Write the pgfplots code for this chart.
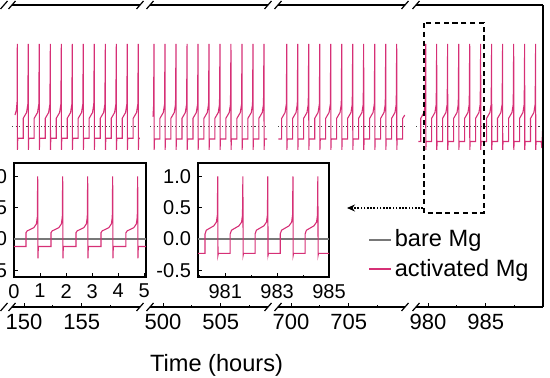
\documentclass[border=0pt]{standalone}
\usepackage{pgfplots}
\pgfplotsset{compat=1.18}
\usepackage{fontspec}
\setmainfont{Liberation Sans}
\usetikzlibrary{arrows.meta}
\definecolor{act}{RGB}{214,48,118}
\definecolor{bare}{RGB}{120,120,120}
\pgfplotsset{
  seg/.style={scale only axis, width=#1, height=151pt,
    ymin=-2.18, ymax=1.47, ytick=\empty,
    separate axis lines, y axis line style={draw=none},
    x axis line style={line width=0.6pt},
    xtick pos=left, tick align=inside,
    major tick length=2pt, minor tick length=1.2pt,
    tick style={line width=0.5pt, black},
    /pgf/number format/assume math mode=true,
    tick label style={font=\fontsize{11}{13}\selectfont},
    anchor=south west},
  inset/.style={scale only axis, width=#1, height=57pt,
    ymin=-0.606, ymax=1.212, ytick={-0.5,0,0.5,1},
    tick align=inside, xtick pos=left, ytick pos=left,
    axis line style={line width=0.7pt},
    major tick length=2pt, minor tick length=1.2pt,
    tick style={line width=0.5pt, black},
    /pgf/number format/assume math mode=true,
    yticklabel style={/pgf/number format/.cd, fixed, fixed zerofill, precision=1},
    tick label style={font=\fontsize{10}{12}\selectfont},
    anchor=south west},
  actline/.style={act, line width=0.55pt, mark=none},
  bareline/.style={bare, line width=0.6pt, mark=none},
}
\begin{document}
\begin{tikzpicture}
\useasboundingbox (0pt,-189pt) rectangle (275pt,0pt);
\begin{scope}
\clip (0pt,-189pt) rectangle (275pt,0pt);
% ---------------- main segments ----------------
\begin{axis}[seg=64pt, at={(6pt,-153.5pt)}, xmin=148.96, xmax=160.04,
  xtick={150,155}, minor xtick={152.5,157.5}]
\addplot[black!75, line width=0.6pt, dash pattern=on 0.6pt off 1.2pt] coordinates {(148.96,0) (160.04,0)};
\addplot[actline] coordinates {
(149.22,0.14)(149.34,0.20)(149.40,0.30)
(149.42,1.0)(149.43,-0.28)(149.46,-0.14)
(149.93,-0.14)(149.93,0.10)(150.22,0.17)(150.33,0.27)(150.37,1.0)(150.38,-0.28)(150.41,-0.14)
(150.88,-0.14)(150.88,0.10)(151.17,0.17)(151.28,0.27)(151.32,1.0)(151.33,-0.28)(151.36,-0.14)
(151.84,-0.14)(151.84,0.10)(152.13,0.17)(152.24,0.27)(152.28,1.0)(152.29,-0.28)(152.32,-0.14)
(152.79,-0.14)(152.79,0.10)(153.08,0.17)(153.19,0.27)(153.23,1.0)(153.24,-0.28)(153.27,-0.14)
(153.74,-0.14)(153.74,0.10)(154.03,0.17)(154.14,0.27)(154.18,1.0)(154.19,-0.28)(154.22,-0.14)
(154.69,-0.14)(154.69,0.10)(154.98,0.17)(155.09,0.27)(155.13,1.0)(155.14,-0.28)(155.17,-0.14)
(155.64,-0.14)(155.64,0.10)(155.93,0.17)(156.04,0.27)(156.08,1.0)(156.09,-0.28)(156.12,-0.14)
(156.60,-0.14)(156.60,0.10)(156.89,0.17)(157.00,0.27)(157.04,1.0)(157.05,-0.28)(157.08,-0.14)
(157.55,-0.14)(157.55,0.10)(157.84,0.17)(157.95,0.27)(157.99,1.0)(158.00,-0.28)(158.03,-0.14)
(158.50,-0.14)(158.50,0.10)(158.79,0.17)(158.90,0.27)(158.94,1.0)(158.95,-0.28)(158.98,-0.14)
(159.45,-0.14)(159.45,0.10)(159.74,0.17)(159.85,0.27)(159.89,1.0)(159.90,-0.28)(159.93,-0.14)
(160.02,-0.14)};
\end{axis}
\begin{axis}[seg=59pt, at={(75pt,-153.5pt)}, xmin=498.87, xmax=509.09,
  xtick={500,505}, minor xtick={502.5,507.5},
  xlabel={Time (hours)},
  xlabel style={at={(axis description cs:0.5636,-0.2152)}, anchor=base, font=\fontsize{11.8}{14}\selectfont}]
\addplot[black!75, line width=0.6pt, dash pattern=on 0.6pt off 1.2pt] coordinates {(498.87,0) (509.09,0)};
\addplot[actline] coordinates {
(499.13,0.12)(499.18,0.25)(499.22,1.0)(499.23,-0.28)(499.26,-0.15)
(499.73,-0.15)(499.73,0.10)(500.02,0.17)(500.13,0.27)(500.17,1.0)(500.18,-0.28)(500.21,-0.15)
(500.68,-0.15)(500.68,0.10)(500.97,0.17)(501.08,0.27)(501.12,1.0)(501.13,-0.28)(501.16,-0.15)
(501.64,-0.15)(501.64,0.10)(501.93,0.17)(502.04,0.27)(502.08,1.0)(502.09,-0.28)(502.12,-0.15)
(502.59,-0.15)(502.59,0.10)(502.88,0.17)(502.99,0.27)(503.03,1.0)(503.04,-0.28)(503.07,-0.15)
(503.54,-0.15)(503.54,0.10)(503.83,0.17)(503.94,0.27)(503.98,1.0)(503.99,-0.28)(504.02,-0.15)
(504.49,-0.15)(504.49,0.10)(504.78,0.17)(504.89,0.27)(504.93,1.0)(504.94,-0.28)(504.97,-0.15)
(505.44,-0.15)(505.44,0.10)(505.73,0.17)(505.84,0.27)(505.88,1.0)(505.89,-0.28)(505.92,-0.15)
(506.40,-0.15)(506.40,0.10)(506.69,0.17)(506.80,0.27)(506.84,1.0)(506.85,-0.28)(506.88,-0.15)
(507.35,-0.15)(507.35,0.10)(507.64,0.17)(507.75,0.27)(507.79,1.0)(507.80,-0.28)(507.83,-0.15)
(508.30,-0.15)(508.30,0.10)(508.59,0.17)(508.70,0.27)(508.74,1.0)(508.75,-0.28)(508.78,-0.15)
(509.02,-0.15)};
\end{axis}
\begin{axis}[seg=63.5pt, at={(139pt,-153.5pt)}, xmin=698.87, xmax=709.87,
  xtick={700,705}, minor xtick={702.5,707.5}]
\addplot[black!75, line width=0.6pt, dash pattern=on 0.6pt off 1.2pt] coordinates {(698.87,0) (709.87,0)};
\addplot[actline] coordinates {
(698.90,-0.15)(699.19,-0.15)(699.19,0.10)(699.48,0.17)(699.59,0.27)(699.63,1.0)(699.64,-0.28)(699.67,-0.15)
(700.14,-0.15)(700.14,0.10)(700.43,0.17)(700.54,0.27)(700.58,1.0)(700.59,-0.28)(700.62,-0.15)
(701.09,-0.15)(701.09,0.10)(701.38,0.17)(701.49,0.27)(701.53,1.0)(701.54,-0.28)(701.57,-0.15)
(702.05,-0.15)(702.05,0.10)(702.34,0.17)(702.45,0.27)(702.49,1.0)(702.50,-0.28)(702.53,-0.15)
(703.00,-0.15)(703.00,0.10)(703.29,0.17)(703.40,0.27)(703.44,1.0)(703.45,-0.28)(703.48,-0.15)
(703.95,-0.15)(703.95,0.10)(704.24,0.17)(704.35,0.27)(704.39,1.0)(704.40,-0.28)(704.43,-0.15)
(704.90,-0.15)(704.90,0.10)(705.19,0.17)(705.30,0.27)(705.34,1.0)(705.35,-0.28)(705.38,-0.15)
(705.85,-0.15)(705.85,0.10)(706.14,0.17)(706.25,0.27)(706.29,1.0)(706.30,-0.28)(706.33,-0.15)
(706.81,-0.15)(706.81,0.10)(707.10,0.17)(707.21,0.27)(707.25,1.0)(707.26,-0.28)(707.29,-0.15)
(707.76,-0.15)(707.76,0.10)(708.05,0.17)(708.16,0.27)(708.20,1.0)(708.21,-0.28)(708.24,-0.15)
(708.71,-0.15)(708.71,0.10)(709.00,0.17)(709.11,0.27)(709.15,1.0)(709.16,-0.28)(709.19,-0.15)
(709.67,-0.15)(709.67,0.10)(709.85,0.14)};
\end{axis}
\begin{axis}[seg=63.5pt, at={(208pt,-153.5pt)}, xmin=978.96, xmax=989.96,
  xtick={980,985}, minor xtick={982.5,987.5}]
\addplot[black!75, line width=0.6pt, dash pattern=on 0.6pt off 1.2pt] coordinates {(978.96,0) (989.96,0)};
\addplot[actline] coordinates {
(979.16,-0.18)(979.37,-0.18)(979.37,0.10)(979.65,0.17)(979.76,0.27)(979.80,1.0)(979.81,-0.28)(979.84,-0.18)
(980.31,-0.18)(980.31,0.10)(980.60,0.17)(980.71,0.27)(980.75,1.0)(980.76,-0.28)(980.79,-0.18)
(981.26,-0.18)(981.26,0.10)(981.55,0.17)(981.66,0.27)(981.70,1.0)(981.71,-0.28)(981.74,-0.18)
(982.22,-0.18)(982.22,0.10)(982.51,0.17)(982.62,0.27)(982.66,1.0)(982.67,-0.28)(982.70,-0.18)
(983.17,-0.18)(983.17,0.10)(983.46,0.17)(983.57,0.27)(983.61,1.0)(983.62,-0.28)(983.65,-0.18)
(984.12,-0.18)(984.12,0.10)(984.41,0.17)(984.52,0.27)(984.56,1.0)(984.57,-0.28)(984.60,-0.18)
(985.07,-0.18)(985.07,0.10)(985.36,0.17)(985.47,0.27)(985.51,1.0)(985.52,-0.28)(985.55,-0.18)
(986.02,-0.18)(986.02,0.10)(986.31,0.17)(986.42,0.27)(986.46,1.0)(986.47,-0.28)(986.50,-0.18)
(986.98,-0.18)(986.98,0.10)(987.27,0.17)(987.38,0.27)(987.42,1.0)(987.43,-0.28)(987.46,-0.18)
(987.93,-0.18)(987.93,0.10)(988.22,0.17)(988.33,0.27)(988.37,1.0)(988.38,-0.28)(988.41,-0.18)
(988.88,-0.18)(988.88,0.10)(989.17,0.17)(989.28,0.27)(989.32,1.0)(989.33,-0.28)(989.36,-0.18)
(989.80,-0.18)(989.86,-0.26)(989.95,0.05)};
\end{axis}
% ---------------- insets ----------------
\begin{axis}[inset=66pt, at={(7pt,-138.5pt)}, xmin=0, xmax=5.07, xtick={0,1,2,3,4,5}]
\addplot[bareline] coordinates {(0,0) (5.07,0)};
\addplot[actline] coordinates {
(0,-0.12)(0.46,-0.12)(0.46,0.10)(0.51,0.13)(0.76,0.18)(0.86,0.24)(0.895,0.35)(0.91,1.0)(0.92,-0.31)(0.935,-0.12)
(1.42,-0.12)(1.42,0.10)(1.47,0.13)(1.72,0.18)(1.82,0.24)(1.855,0.35)(1.87,1.0)(1.88,-0.31)(1.895,-0.12)
(2.38,-0.12)(2.38,0.10)(2.43,0.13)(2.68,0.18)(2.78,0.24)(2.815,0.35)(2.83,1.0)(2.84,-0.31)(2.855,-0.12)
(3.34,-0.12)(3.34,0.10)(3.39,0.13)(3.64,0.18)(3.74,0.24)(3.775,0.35)(3.79,1.0)(3.80,-0.31)(3.815,-0.12)
(4.30,-0.12)(4.30,0.10)(4.35,0.13)(4.60,0.18)(4.70,0.24)(4.735,0.35)(4.75,1.0)(4.76,-0.31)(4.775,-0.12)
(5.07,-0.12)};
\end{axis}
\begin{axis}[inset=65.5pt, at={(99pt,-138.5pt)}, xmin=979.95, xmax=985,
  xtick={981,983,985}, minor xtick={980,982,984},
  legend style={draw=none, fill=none, at={(1.298,0.443)}, anchor=north west,
    inner sep=0pt, font=\fontsize{11.8}{14}\selectfont,
    nodes={inner sep=1.5pt}, row sep=1.5pt},
  legend cell align=left,
  legend image code/.code={\draw[#1, line width=0.7pt] (0pt,0pt) -- (11pt,0pt);}]
\addplot[bareline] coordinates {(979.95,0) (985,0)};
\addlegendentry{bare Mg}
\addplot[actline] coordinates {
(979.95,-0.23)
(980.22,-0.23)(980.22,0.08)(980.27,0.14)(980.56,0.21)(980.66,0.27)(980.695,0.38)(980.71,1.0)(980.72,-0.26)(980.735,-0.23)
(981.19,-0.23)(981.19,0.08)(981.24,0.14)(981.53,0.21)(981.63,0.27)(981.665,0.38)(981.68,1.0)(981.69,-0.26)(981.705,-0.23)
(982.15,-0.23)(982.15,0.08)(982.20,0.14)(982.49,0.21)(982.59,0.27)(982.625,0.38)(982.64,1.0)(982.65,-0.26)(982.665,-0.23)
(983.12,-0.23)(983.12,0.08)(983.17,0.14)(983.46,0.21)(983.56,0.27)(983.595,0.38)(983.61,1.0)(983.62,-0.26)(983.635,-0.23)
(984.08,-0.23)(984.08,0.08)(984.13,0.14)(984.42,0.21)(984.52,0.27)(984.555,0.38)(984.57,1.0)(984.58,-0.26)(984.595,-0.23)
(985.0,-0.23)};
\addlegendentry{activated Mg}
\end{axis}
% ---------------- frame decorations ----------------
\draw[line width=0.6pt] (271.5pt,-2.5pt) -- (271.5pt,-153.5pt);
\foreach \bx in {2,6,70,75,134,139,202.5,208}{
  \draw[line width=0.6pt] ({\bx*1pt-1.75pt},-4.5pt) -- ({\bx*1pt+1.75pt},-0.5pt);
  \draw[line width=0.6pt] ({\bx*1pt-1.75pt},-155.5pt) -- ({\bx*1pt+1.75pt},-151.5pt);
}
\draw[line width=1.3pt, dash pattern=on 2.6pt off 1.8pt] (212pt,-11.5pt) rectangle (242pt,-106.5pt);
\draw[line width=0.6pt, dash pattern=on 0.8pt off 0.8pt, -{Stealth[length=4pt,width=3.5pt]}] (211.5pt,-104pt) -- (173.5pt,-104pt);
\end{scope}
\end{tikzpicture}
\end{document}
